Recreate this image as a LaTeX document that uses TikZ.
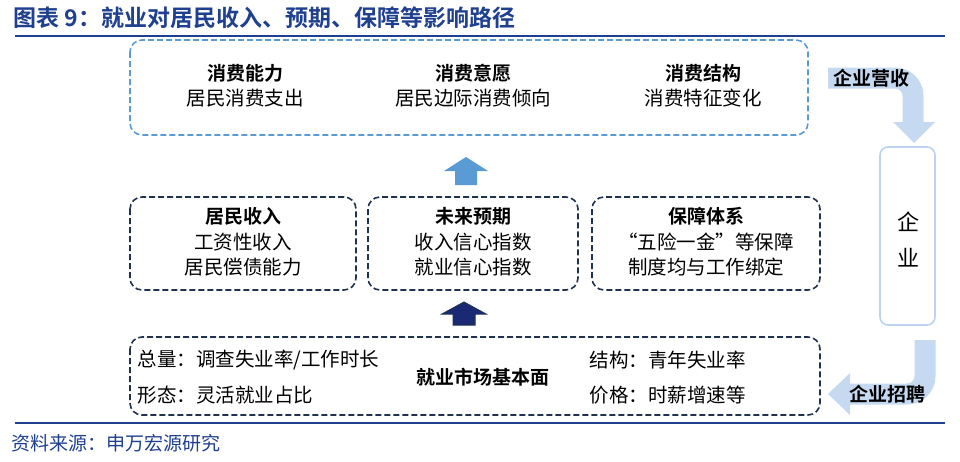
\documentclass[tikz,border=0pt]{standalone}
\usepackage{fontspec}
\setmainfont{Noto Sans CJK SC}[BoldFont={Noto Sans CJK SC Bold}]
\usetikzlibrary{positioning}
\definecolor{titleblue}{HTML}{1F3F8F}
\definecolor{lightblue}{HTML}{5B9BD5}
\definecolor{navy}{HTML}{1F3350}
\definecolor{bandblue}{HTML}{C5D9F1}
\definecolor{boxblue}{HTML}{BDD3EE}
\tikzset{
  topbox/.style={draw=lightblue, line width=1.6pt, dash pattern=on 6pt off 3pt, rounded corners=12pt},
  midbox/.style={draw=navy, line width=1.6pt, dash pattern=on 6pt off 3pt, rounded corners=12pt},
  txt/.style={font=\fontsize{19.5}{22}\selectfont, align=center},
  bold/.style={font=\bfseries\fontsize{19}{22}\selectfont},
  band/.style={line width=21pt, draw=bandblue},
}
\begin{document}
\begin{tikzpicture}[x=1pt,y=-1pt]
				\useasboundingbox (0,0) rectangle (960,461);
				% title and rules
				\node[anchor=west, text=titleblue, font=\bfseries\fontsize{23}{25}\selectfont] (title) at (10,18) {图表 9：就业对居民收入、预期、保障等影响路径};
				\draw[titleblue, line width=2pt] (15,36) -- (945,36);
				\draw[titleblue, line width=2pt] (15,423) -- (945,423);
				\node[anchor=west, text=titleblue, font=\fontsize{19}{22}\selectfont] (src) at (8,443) {资料来源：申万宏源研究};
				% top box
				\draw[topbox] (130,40) rectangle (808,135);
				\node[bold] (c1) at (245,73) {消费能力};
				\node[txt] (c1b) at (245,98) {居民消费支出};
				\node[bold] (c2) at (473,73) {消费意愿};
				\node[txt] (c2b) at (473,98) {居民边际消费倾向};
				\node[bold] (c3) at (703,73) {消费结构};
				\node[txt] (c3b) at (703,98) {消费特征变化};
				% arrows up
				\fill[lightblue] (455,185) -- (455,171) -- (444,171) -- (466,157) -- (488,171) -- (477,171) -- (477,185) -- cycle;
				\filldraw[fill=navy!80!blue, draw=navy, line width=1pt] (453,325) -- (453,314) -- (442,314) -- (464,302) -- (486,314) -- (475,314) -- (475,325) -- cycle;
				% middle boxes
				\draw[midbox] (130,197) rectangle (356,290);
				\draw[midbox] (368,197) rectangle (578,290);
				\draw[midbox] (592,197) rectangle (820,290);
				\node[bold] (m1) at (243,216) {居民收入};
				\node[txt] (m1b) at (243,242) {工资性收入};
				\node[txt] (m1c) at (243,267) {居民偿债能力};
				\node[bold] (m2) at (473,216) {未来预期};
				\node[txt] (m2b) at (473,242) {收入信心指数};
				\node[txt] (m2c) at (473,267) {就业信心指数};
				\node[bold] (m3) at (706,216) {保障体系};
				\node[txt] (m3b) at (706,242) {“五险一金”等保障};
				\node[txt] (m3c) at (706,267) {制度均与工作绑定};
				% bottom box
				\draw[midbox] (130,337) rectangle (820,415);
				\node[txt, anchor=west] (b1) at (134,360) {总量：调查失业率/工作时长};
				\node[txt, anchor=west] (b2) at (134,395) {形态：灵活就业占比};
				\node[bold] (b0) at (483,377) {就业市场基本面};
				\node[txt, anchor=west] (b3) at (586,360) {结构：青年失业率};
				\node[txt, anchor=west] (b4) at (586,395) {价格：时薪增速等};
				% firm
				\draw[boxblue, line width=1.6pt, rounded corners=8pt] (880,147) rectangle (935,325);
				\node[txt, font=\fontsize{22}{24}\selectfont] (f1) at (908,222) {企};
				\node[txt, font=\fontsize{22}{24}\selectfont] (f2) at (908,258) {业};
				% curved bands
				\draw[band, rounded corners=18pt] (828,78) -- (913,78) -- (913,124);
				\fill[bandblue] (893,122) -- (935,122) -- (914,143) -- cycle;
				\node[bold] (rev) at (871,78) {企业营收};
				\draw[band, rounded corners=18pt] (925,340) -- (925,394) -- (848,394);
				\fill[bandblue] (850,373) -- (850,415) -- (828,394) -- cycle;
				\node[bold] (hire) at (887,394) {企业招聘};
			\end{tikzpicture}
\end{document}
